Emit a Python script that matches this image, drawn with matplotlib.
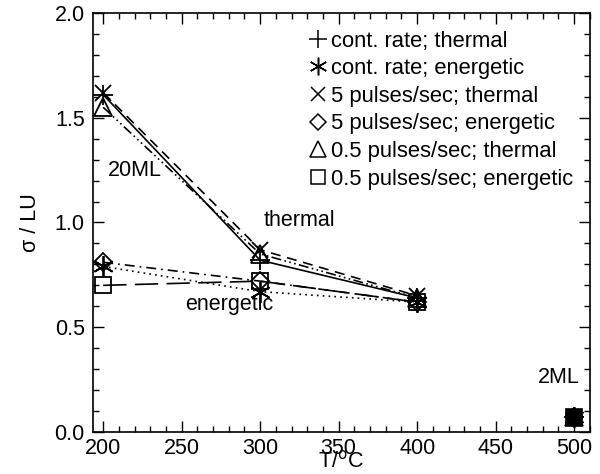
import matplotlib
matplotlib.use("Agg")
import matplotlib.pyplot as plt
from matplotlib.ticker import MultipleLocator, FormatStrFormatter
from matplotlib.lines import Line2D

plt.rcParams['font.family'] = ['Liberation Sans', 'DejaVu Sans']

temps = [200, 300, 400]
cont_thermal = [1.61, 0.82, 0.64]
cont_energetic = [0.79, 0.67, 0.62]
p5_thermal = [1.62, 0.87, 0.65]
p5_energetic = [0.81, 0.72, 0.62]
p05_thermal = [1.55, 0.85, 0.64]
p05_energetic = [0.70, 0.72, 0.62]
temp_2ml = [500]
value_2ml = [0.07]

labels = ["cont. rate; thermal", "cont. rate; energetic", "5 pulses/sec; thermal",
          "5 pulses/sec; energetic", "0.5 pulses/sec; thermal", "0.5 pulses/sec; energetic"]
series = [cont_thermal, cont_energetic, p5_thermal, p5_energetic, p05_thermal, p05_energetic]
markers = ['+', (6, 2, 0), 'x', 'D', '^', 's']
msizes = [15, 15, 12, 9, 13, 12]
linestyles = ['-', (0, (1, 2.5)), (0, (6, 4)), (0, (6, 3, 1, 3)),
              (0, (6, 2, 1, 2, 1, 2, 1, 2)), (0, (14, 5))]

FS = 15.5

fig = plt.figure(figsize=(6.0, 4.74), dpi=100)
ax = fig.add_axes([0.155, 0.0886, 0.828, 0.884])

handles = []
for vals, lab, mk, ms, ls in zip(series, labels, markers, msizes, linestyles):
    ax.plot(temps, vals, color='black', lw=1.2, linestyle=ls, marker=mk,
            markersize=ms, markerfacecolor='none', markeredgecolor='black', mew=1.3)
    ax.plot(temp_2ml, value_2ml, linestyle='none', marker=mk, markersize=ms,
            markerfacecolor='black', markeredgecolor='black', mew=1.2)
    handles.append(Line2D([], [], linestyle='none', marker=mk, markersize=ms * 0.85,
                          markerfacecolor='none', markeredgecolor='black', mew=1.1))

ax.set_xlim(193.5, 510)
ax.set_ylim(0, 2.0)
ax.xaxis.set_major_locator(MultipleLocator(50))
ax.xaxis.set_minor_locator(MultipleLocator(10))
ax.yaxis.set_major_locator(MultipleLocator(0.5))
ax.yaxis.set_minor_locator(MultipleLocator(0.1))
ax.yaxis.set_major_formatter(FormatStrFormatter('%.1f'))
ax.tick_params(which='both', direction='in', top=True, right=True, labelsize=FS)
ax.tick_params(which='major', length=8, width=1)
ax.tick_params(which='minor', length=4, width=1)
ax.tick_params(axis='x', which='major', pad=4)
ax.tick_params(axis='y', which='major', pad=6)
for s in ax.spines.values():
    s.set_linewidth(1.2)

ax.set_xlabel("T/$^{\\mathrm{o}}$C", fontsize=FS, va='bottom')
ax.xaxis.set_label_coords(0.5, -0.097)
ax.set_ylabel("σ / LU", fontsize=FS, labelpad=10)

ax.text(220, 1.25, "20ML", fontsize=FS, ha='center', va='center')
ax.text(325, 1.01, "thermal", fontsize=FS, ha='center', va='center')
ax.text(280, 0.61, "energetic", fontsize=FS, ha='center', va='center')
ax.text(490, 0.26, "2ML", fontsize=FS, ha='center', va='center')

leg = ax.legend(handles, labels, loc='upper left', frameon=False, fontsize=15.8,
                handlelength=0.8, handletextpad=0.2, labelspacing=0.3,
                borderaxespad=0.0, borderpad=0.0, bbox_to_anchor=(0.4346, 0.958))

fig.savefig("out.png", dpi=100)
